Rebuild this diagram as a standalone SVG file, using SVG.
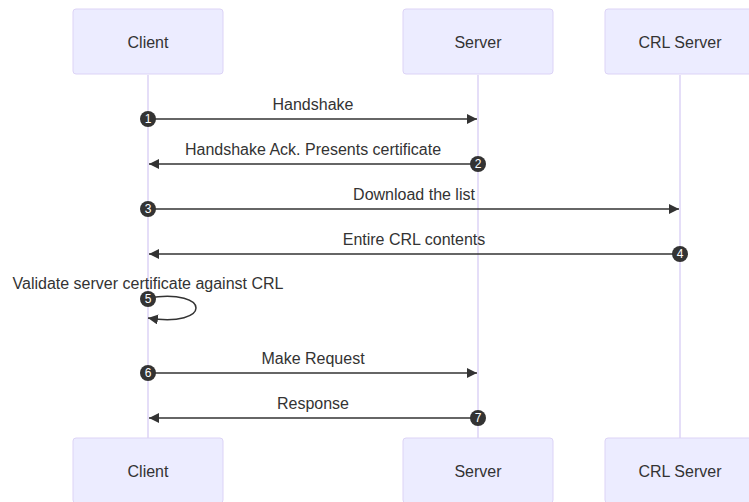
<svg xmlns="http://www.w3.org/2000/svg" width="749" height="502" viewBox="0 0 749 502">
<style>
.actor{fill:#ECECFF;stroke:#DCD3F6;stroke-width:1}
.atext{font-family:"Liberation Sans",Arial,sans-serif;font-size:16px;fill:#333;text-anchor:middle;dominant-baseline:central}
.life{stroke:#DCD3F6;stroke-width:1.5}
.msg{stroke:#333;stroke-width:1.5;fill:none;marker-end:url(#arrow)}
.mtext{font-family:"Liberation Sans",Arial,sans-serif;font-size:16px;fill:#333;text-anchor:middle}
.num{fill:#333}
.ntext{font-family:"Liberation Sans",Arial,sans-serif;font-size:12px;fill:#fff;text-anchor:middle;dominant-baseline:central}
</style>
<defs>
<marker id="arrow" markerUnits="userSpaceOnUse" markerWidth="12" markerHeight="12" refX="10" refY="5" orient="auto">
<path d="M0,0 L10,5 L0,10 z" fill="#333"/>
</marker>
</defs>
<rect width="749" height="502" fill="#fff"/>
<g id="lifelines">
<line class="life" x1="148" y1="75" x2="148" y2="438"/>
<line class="life" x1="478" y1="75" x2="478" y2="438"/>
<line class="life" x1="680" y1="75" x2="680" y2="438"/>
</g>
<g id="client-top"><rect class="actor" x="73" y="9" width="150" height="65" rx="3"/><text class="atext" x="148" y="42">Client</text></g>
<g id="server-top"><rect class="actor" x="403" y="9" width="150" height="65" rx="3"/><text class="atext" x="478" y="42">Server</text></g>
<g id="crl-top"><rect class="actor" x="605" y="9" width="150" height="65" rx="3"/><text class="atext" x="680" y="42">CRL Server</text></g>
<g id="client-bottom"><rect class="actor" x="73" y="438" width="150" height="65" rx="3"/><text class="atext" x="148" y="471">Client</text></g>
<g id="server-bottom"><rect class="actor" x="403" y="438" width="150" height="65" rx="3"/><text class="atext" x="478" y="471">Server</text></g>
<g id="crl-bottom"><rect class="actor" x="605" y="438" width="150" height="65" rx="3"/><text class="atext" x="680" y="471">CRL Server</text></g>
<g id="connectors">
<text class="mtext" x="313" y="110">Handshake</text>
<line class="msg" x1="148" y1="119" x2="477" y2="119"/>
<text class="mtext" x="313" y="155">Handshake Ack. Presents certificate</text>
<line class="msg" x1="478" y1="164" x2="149" y2="164"/>
<text class="mtext" x="414" y="200">Download the list</text>
<line class="msg" x1="148" y1="209" x2="679" y2="209"/>
<text class="mtext" x="414" y="245">Entire CRL contents</text>
<line class="msg" x1="680" y1="254" x2="149" y2="254"/>
<text class="mtext" x="148" y="289">Validate server certificate against CRL</text>
<path class="msg" d="M148,298 C212,288 212,328 148,318"/>
<text class="mtext" x="313" y="364">Make Request</text>
<line class="msg" x1="148" y1="373" x2="477" y2="373"/>
<text class="mtext" x="313" y="409">Response</text>
<line class="msg" x1="478" y1="418" x2="149" y2="418"/>
<g id="seqnums">
<circle class="num" cx="148" cy="119" r="8"/><text class="ntext" x="148" y="119">1</text>
<circle class="num" cx="478" cy="164" r="8"/><text class="ntext" x="478" y="164">2</text>
<circle class="num" cx="148" cy="209" r="8"/><text class="ntext" x="148" y="209">3</text>
<circle class="num" cx="680" cy="254" r="8"/><text class="ntext" x="680" y="254">4</text>
<circle class="num" cx="148" cy="299" r="8"/><text class="ntext" x="148" y="299">5</text>
<circle class="num" cx="148" cy="373" r="8"/><text class="ntext" x="148" y="373">6</text>
<circle class="num" cx="478" cy="418" r="8"/><text class="ntext" x="478" y="418">7</text>
</g>
</g>
</svg>
